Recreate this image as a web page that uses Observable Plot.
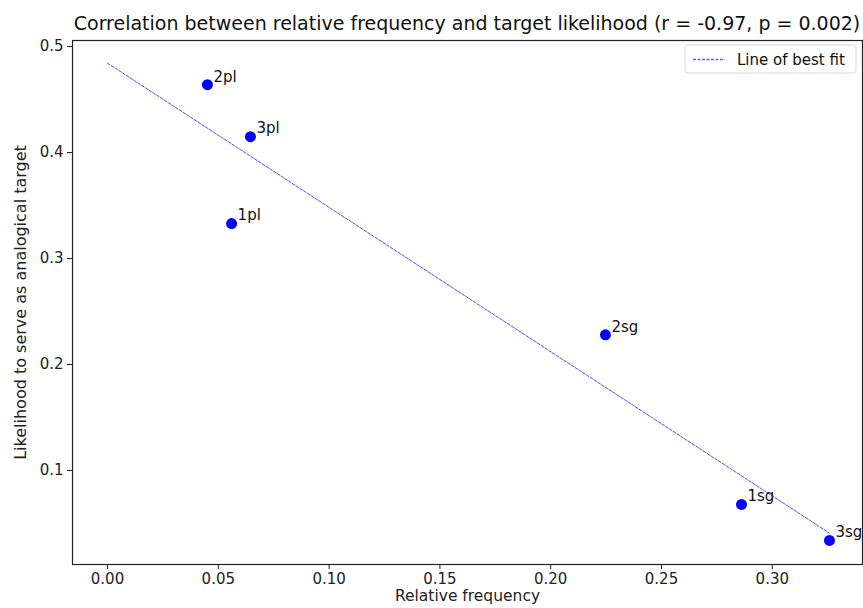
<!DOCTYPE html>
<html><head><meta charset="utf-8">
<script src="https://cdn.jsdelivr.net/npm/d3@7"></script>
<script src="https://cdn.jsdelivr.net/npm/@observablehq/plot@0.6"></script>
<style>
body{margin:0;background:#fff;font-family:"DejaVu Sans",sans-serif;}
#title{height:30px;width:863px;position:relative;overflow:visible;}
#title span{position:absolute;left:467px;top:14px;transform:translateX(-50%);font-size:19px;line-height:1;white-space:nowrap;color:#111;}
#chart svg{display:block;}
</style></head><body>
<div id="title"><span>Correlation between relative frequency and target likelihood (r = -0.97, p = 0.002)</span></div>
<div id="chart"></div>
<script>
const labels = ["2pl", "3pl", "1pl", "2sg", "1sg", "3sg"];
const relFreq = [0.0451, 0.0645, 0.0560, 0.2247, 0.2861, 0.3258];
const likelihood = [0.464, 0.415, 0.333, 0.228, 0.068, 0.034];
const xTicks = [0, 0.05, 0.10, 0.15, 0.20, 0.25, 0.30];
const yTicks = [0.1, 0.2, 0.3, 0.4, 0.5];
const xLabel = "Relative frequency";
const yLabel = "Likelihood to serve as analogical target";
const legendLabel = "Line of best fit";

const data = labels.map((l, i) => ({label: l, x: relFreq[i], y: likelihood[i]}));
// least-squares line of best fit, drawn from 0 to the largest frequency
const mx = d3.mean(relFreq), my = d3.mean(likelihood);
const slope = d3.sum(relFreq, (x, i) => (x - mx) * (likelihood[i] - my)) / d3.sum(relFreq, x => (x - mx) ** 2);
const intercept = my - slope * mx;
const xMax = d3.max(relFreq);
const fit = [{x: 0, y: intercept}, {x: xMax, y: intercept + slope * xMax}];

const plot = Plot.plot({
  width: 863, height: 578,
  marginLeft: 72, marginRight: 1, marginTop: 10, marginBottom: 44,
  style: {fontFamily: "DejaVu Sans", fontSize: "15px", color: "#222", background: "#fff"},
  x: {domain: [-0.0158, 0.3407]},
  y: {domain: [0.0113, 0.5057]},
  marks: [
    Plot.frame({stroke: "#222", strokeWidth: 1.2}),
    Plot.axisX({ticks: xTicks, tickFormat: d3.format(".2f"), tickSize: 5, tickPadding: 4, fontSize: 15, label: null}),
    Plot.axisY({ticks: yTicks, tickFormat: d3.format(".1f"), tickSize: 5, tickPadding: 4, fontSize: 15, label: null}),
    Plot.text([xLabel], {frameAnchor: "bottom", text: d => d, dy: 36, fontSize: 15.5, fill: "#222"}),
    Plot.text([yLabel], {frameAnchor: "left", textAnchor: "middle", text: d => d, rotate: -90, dx: -52, fontSize: 16, fill: "#222"}),
    Plot.line(fit, {x: "x", y: "y", stroke: "#0000ff", strokeWidth: 1, strokeOpacity: 0.7, strokeDasharray: "3,1.5"}),
    Plot.dot(data, {x: "x", y: "y", r: 5.5, fill: "#0000ff", stroke: "none"}),
    Plot.text(data, {x: "x", y: "y", text: "label", dx: 6, dy: -8, textAnchor: "start", fontSize: 15, fill: "#111"})
  ]
});
document.getElementById("chart").appendChild(plot);

// legend box (top right of the axes)
const svg = d3.select(plot);
const lg = svg.append("g");
lg.append("rect").attr("x", 685).attr("y", 15).attr("width", 171).attr("height", 28).attr("rx", 3)
  .attr("fill", "#fff").attr("stroke", "#d8d8d8");
lg.append("line").attr("x1", 693).attr("x2", 725).attr("y1", 29.5).attr("y2", 29.5)
  .style("stroke", "#2a2aff").style("stroke-width", "1.4px").style("stroke-opacity", 0.75).style("stroke-dasharray", "3,1.5");
lg.append("text").attr("x", 737).attr("y", 29.5).attr("dy", "0.35em").attr("font-size", 15)
  .attr("text-anchor", "start").attr("font-family", "DejaVu Sans").attr("fill", "#111").text(legendLabel);
</script>
</body></html>
